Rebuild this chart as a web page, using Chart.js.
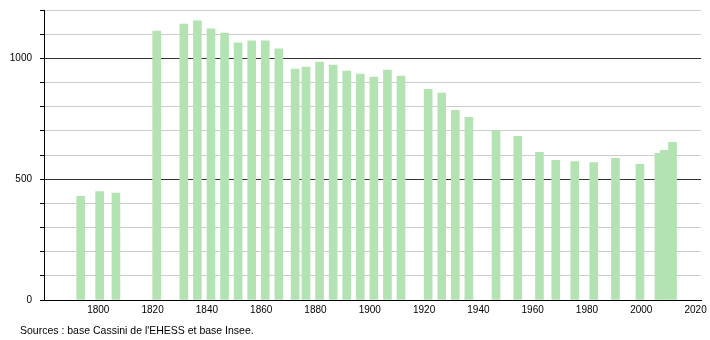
<!DOCTYPE html>
<html>
<head>
<meta charset="utf-8">
<script src="https://cdn.jsdelivr.net/npm/chart.js@4/dist/chart.umd.min.js"></script>
<style>
  body { margin: 0; background: #fff; }
</style>
</head>
<body>
<canvas id="myChart" width="710" height="340"></canvas>
<script>
const years = [1793, 1800, 1806, 1821, 1831, 1836, 1841, 1846, 1851, 1856, 1861, 1866,
               1872, 1876, 1881, 1886, 1891, 1896, 1901, 1906, 1911, 1921, 1926, 1931,
               1936, 1946, 1954, 1962, 1968, 1975, 1982, 1990, 1999, 2006, 2008, 2011];
const population = [429, 449, 442, 1113, 1142, 1155, 1122, 1105, 1064, 1072, 1072, 1039,
                     956, 964, 985, 972, 947, 935, 922, 951, 927, 872, 856, 785,
                     756, 701, 677, 611, 578, 573, 569, 586, 561, 607, 619, 652];
const yearTicks = [1800, 1820, 1840, 1860, 1880, 1900, 1920, 1940, 1960, 1980, 2000, 2020];
const popTicks = [0, 500, 1000];
const sourceText = "Sources : base Cassini de l'EHESS et base Insee.";

const FONT = { family: "'Liberation Sans', Arial, sans-serif", size: 10 };

const sourcePlugin = {
  id: 'source',
  afterDraw(chart) {
    const c = chart.ctx;
    c.save();
    c.font = "10.5px 'Liberation Sans', Arial, sans-serif";
    c.fillStyle = '#000';
    c.textBaseline = 'alphabetic';
    c.fillText(sourceText, 20, 334);
    c.restore();
  }
};

const ctx = document.getElementById('myChart');
new Chart(ctx, {
  type: 'bar',
  data: {
    datasets: [{
      data: years.map((yr, i) => ({ x: yr, y: population[i] })),
      backgroundColor: '#b3e3b3',
      borderWidth: 0,
      barThickness: 8,
      xAxisID: 'xb'
    }]
  },
  options: {
    responsive: false,
    animation: false,
    layout: { padding: { top: 10, right: 9, left: 0, bottom: 0 } },
    plugins: { legend: { display: false }, tooltip: { enabled: false } },
    scales: {
      x: {
        type: 'linear',
        offset: false,
        min: 1780,
        max: 2022,
        afterFit: s => { s.height = 40; s.paddingLeft = 0; s.paddingRight = 0; },
        afterBuildTicks: s => { s.ticks = yearTicks.map(v => ({ value: v })); },
        ticks: {
          autoSkip: false, maxRotation: 0, padding: 4,
          color: '#000', font: FONT,
          callback: v => String(v)
        },
        grid: { display: false, drawTicks: false, offset: false },
        border: { display: true, color: '#000', width: 1 }
      },
      xb: {
        type: 'linear',
        display: false,
        offset: false,
        grid: { offset: false },
        min: 1779.5,
        max: 2021.5
      },
      y: {
        min: 0,
        max: 1200,
        afterFit: s => { s.width = 44; s.paddingTop = 0; s.paddingBottom = 0; },
        ticks: {
          stepSize: 100, autoSkip: false, padding: 8,
          color: '#000', font: FONT,
          callback: v => popTicks.includes(v) ? String(v) : ''
        },
        grid: {
          tickLength: 4,
          color: c => (c.tick && c.tick.value % 500 === 0) ? '#333333' : '#cccccc',
          tickColor: '#000'
        },
        border: { display: true, color: '#000', width: 1 }
      }
    }
  },
  plugins: [sourcePlugin]
});
</script>
</body>
</html>
